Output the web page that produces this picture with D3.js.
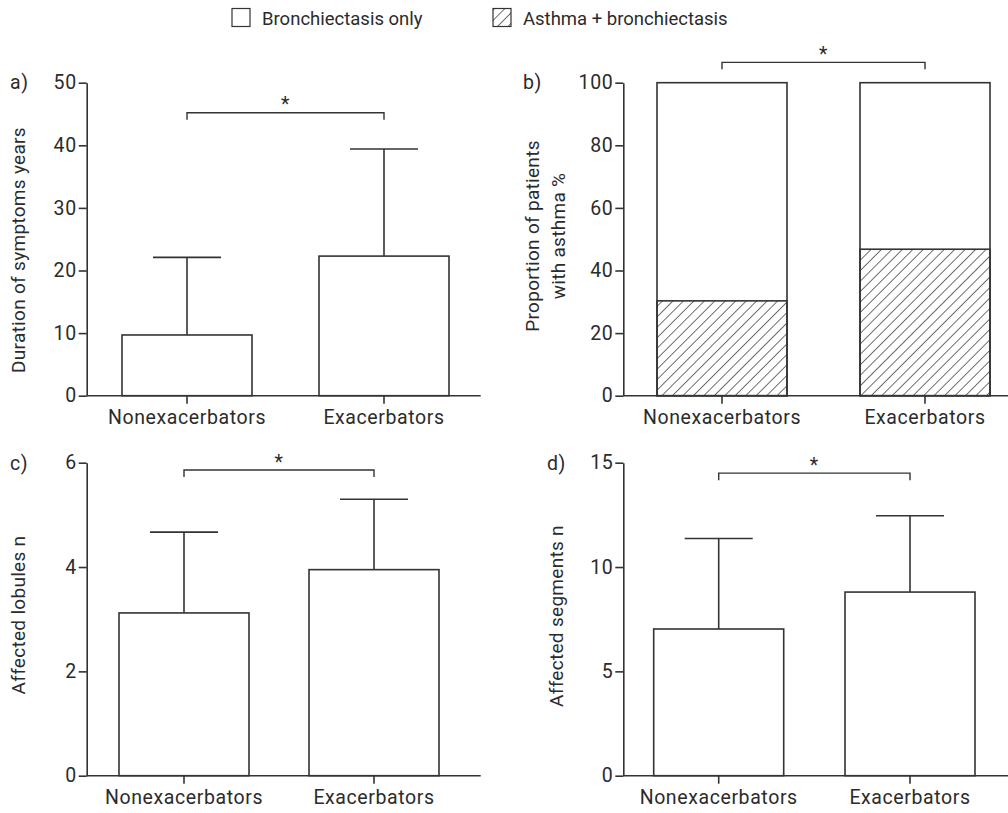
<!DOCTYPE html>
<html>
<head>
<meta charset="utf-8">
<script src="https://cdn.jsdelivr.net/npm/d3@7"></script>
<style>
  body { margin: 0; background: #fff; }
  svg text { font-family: Roboto, "Noto Sans", sans-serif; fill: #2b2b2b; }
  .tk { font-size: 19.5px; letter-spacing: 0.6px; }
  .lab { font-size: 19px; letter-spacing: 0.3px; }
  .leg { font-size: 18.5px; }
</style>
</head>
<body>
<svg id="chart" width="1008" height="813"></svg>
<script>
// data
const groups = ['Nonexacerbators', 'Exacerbators'];

const durationMean = [9.7, 22.3];
const durationUpper = [22.1, 39.4];
const durationTicks = [0, 10, 20, 30, 40, 50];

const asthmaPct = [30.3, 46.8];
const totalPct = [100, 100];
const asthmaTicks = [0, 20, 40, 60, 80, 100];

const lobulesMean = [3.12, 3.95];
const lobulesUpper = [4.67, 5.30];
const lobulesTicks = [0, 2, 4, 6];

const segmentsMean = [7.03, 8.8];
const segmentsUpper = [11.37, 12.46];
const segmentsTicks = [0, 5, 10, 15];

const bracketLevels = [45.2, 106.5, 5.86, 14.5];

const legendLabels = ['Bronchiectasis only', 'Asthma + bronchiectasis'];

const ink = '#333';
const sw = 1.6;

const svg = d3.select('#chart');

const defs = svg.append('defs');
defs.append('pattern')
  .attr('id', 'hatch')
  .attr('patternUnits', 'userSpaceOnUse')
  .attr('width', 7.4)
  .attr('height', 7.4)
  .attr('patternTransform', 'rotate(45)')
  .append('line')
  .attr('x1', 0).attr('y1', 0).attr('x2', 0).attr('y2', 7.4)
  .attr('stroke', '#222')
  .attr('stroke-width', 1.3);

// legend
const legend = svg.append('g');
legendLabels.forEach((l, i) => {
  let x = i == 0 ? 232 : 493;
  legend.append('rect')
    .attr('x', x).attr('y', 8.5)
    .attr('width', 18).attr('height', 18)
    .attr('fill', i == 0 ? '#fff' : 'url(#hatch)')
    .attr('stroke', ink).attr('stroke-width', 1.2);
  legend.append('text')
    .attr('class', 'leg')
    .attr('x', x + 30).attr('y', 25)
    .text(l);
});

// panel layout
const panels = [
  { letter: 'a)', lx: 10, ly: 89, axisX: 86.7, right: 480.7, top: 82.7, bottom: 395.7, bars: [122, 449],
    ticks: durationTicks, mean: durationMean, upper: durationUpper, bracket: bracketLevels[0],
    label: ['Duration of symptoms years'], labX: 25, labY: 250 },
  { letter: 'b)', lx: 523, ly: 89, axisX: 623.3, right: 1008, top: 82.7, bottom: 395.7, bars: [657, 990],
    ticks: asthmaTicks, stack: asthmaPct, total: totalPct, bracket: bracketLevels[1],
    label: ['Proportion of patients', 'with asthma %'], labX: 538.5, labY: 236 },
  { letter: 'c)', lx: 10, ly: 470, axisX: 86.7, right: 480.7, top: 462.7, bottom: 775.7, bars: [119, 439],
    ticks: lobulesTicks, mean: lobulesMean, upper: lobulesUpper, bracket: bracketLevels[2],
    label: ['Affected lobules n'], labX: 25, labY: 615 },
  { letter: 'd)', lx: 547, ly: 470, axisX: 623.3, right: 1008, top: 462.7, bottom: 775.7, bars: [653.7, 975],
    ticks: segmentsTicks, mean: segmentsMean, upper: segmentsUpper, bracket: bracketLevels[3],
    label: ['Affected segments n'], labX: 563, labY: 616 }
];

const barW = 130;
const capW = 68;

panels.forEach(p => {
  const g = svg.append('g');

  const R = p.bars[1] - p.bars[0];
  const x = d3.scaleBand()
    .domain(groups)
    .range(p.bars)
    .paddingInner((R - 2 * barW) / (R - barW))
    .paddingOuter(0);

  const y = d3.scaleLinear()
    .domain([0, d3.max(p.ticks)])
    .range([p.bottom, p.top]);

  // bars
  if (p.stack) {
    g.selectAll('.tot').data(groups).enter().append('rect')
      .attr('x', d => x(d)).attr('width', x.bandwidth())
      .attr('y', (d, i) => y(p.total[i]))
      .attr('height', (d, i) => y(0) - y(p.total[i]))
      .attr('fill', '#fff').attr('stroke', ink).attr('stroke-width', sw);
    g.selectAll('.hat').data(groups).enter().append('rect')
      .attr('x', d => x(d)).attr('width', x.bandwidth())
      .attr('y', (d, i) => y(p.stack[i]))
      .attr('height', (d, i) => y(0) - y(p.stack[i]))
      .attr('fill', 'url(#hatch)').attr('stroke', ink).attr('stroke-width', sw);
  } else {
    // error bars (upper only)
    g.selectAll('.err').data(groups).enter().append('line')
      .attr('x1', d => x(d) + x.bandwidth() / 2).attr('x2', d => x(d) + x.bandwidth() / 2)
      .attr('y1', (d, i) => y(p.mean[i])).attr('y2', (d, i) => y(p.upper[i]))
      .attr('stroke', ink).attr('stroke-width', sw);
    g.selectAll('.cap').data(groups).enter().append('line')
      .attr('x1', d => x(d) + x.bandwidth() / 2 - capW / 2).attr('x2', d => x(d) + x.bandwidth() / 2 + capW / 2)
      .attr('y1', (d, i) => y(p.upper[i])).attr('y2', (d, i) => y(p.upper[i]))
      .attr('stroke', ink).attr('stroke-width', sw);
    g.selectAll('.bar').data(groups).enter().append('rect')
      .attr('x', d => x(d)).attr('width', x.bandwidth())
      .attr('y', (d, i) => y(p.mean[i]))
      .attr('height', (d, i) => y(0) - y(p.mean[i]))
      .attr('fill', '#fff').attr('stroke', ink).attr('stroke-width', sw);
  }

  // y axis
  const yAxis = g.append('g')
    .attr('transform', 'translate(' + p.axisX + ',0)')
    .call(d3.axisLeft(y).tickValues(p.ticks).tickFormat(d3.format('d'))
      .tickSize(8).tickSizeOuter(0).tickPadding(2))
    .attr('font-size', null).attr('font-family', null);
  yAxis.select('.domain').attr('stroke', ink).attr('stroke-width', sw);
  yAxis.selectAll('.tick line').attr('stroke', ink).attr('stroke-width', sw);
  yAxis.selectAll('.tick text').attr('class', 'tk').attr('fill', null);

  // x axis
  const xAxis = g.append('g')
    .attr('transform', 'translate(0,' + p.bottom + ')')
    .call(d3.axisBottom(x).tickSize(8).tickPadding(6))
    .attr('font-size', null).attr('font-family', null);
  xAxis.select('.domain').remove();
  xAxis.selectAll('.tick line').attr('stroke', ink).attr('stroke-width', sw);
  xAxis.selectAll('.tick text').attr('class', 'tk').attr('fill', null);
  g.append('line')
    .attr('x1', p.axisX).attr('x2', p.right)
    .attr('y1', y(0)).attr('y2', y(0))
    .attr('stroke', ink).attr('stroke-width', sw);

  // significance bracket
  const bx0 = x(groups[0]) + x.bandwidth() / 2;
  const bx1 = x(groups[1]) + x.bandwidth() / 2;
  const by = y(p.bracket);
  g.append('path')
    .attr('d', d3.line()([[bx0, by + 7], [bx0, by], [bx1, by], [bx1, by + 7]]))
    .attr('fill', 'none').attr('stroke', ink).attr('stroke-width', 1.4);
  g.append('text')
    .attr('class', 'tk')
    .attr('x', (bx0 + bx1) / 2).attr('y', by - 1.5)
    .attr('text-anchor', 'middle')
    .text('*');

  // panel letter
  g.append('text').attr('class', 'tk').attr('x', p.lx).attr('y', p.ly).text(p.letter);

  // y label
  const lab = g.append('text')
    .attr('class', 'lab')
    .attr('text-anchor', 'middle')
    .attr('transform', 'translate(' + p.labX + ',' + p.labY + ') rotate(-90)');
  p.label.forEach((t, i) => {
    lab.append('tspan').attr('x', 0).attr('y', i * 26.5).text(t);
  });
});
</script>
</body>
</html>
